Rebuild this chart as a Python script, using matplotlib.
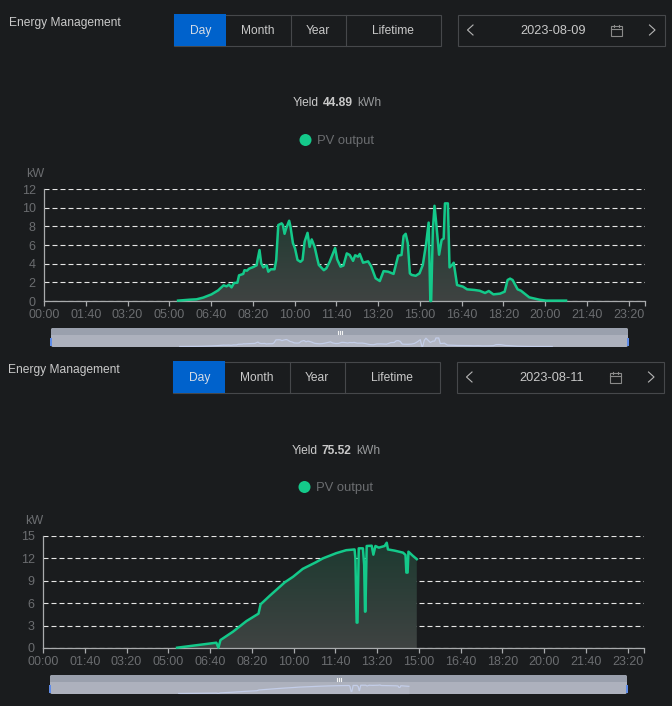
import numpy as np
import matplotlib
matplotlib.use("Agg")
import matplotlib.pyplot as plt
from matplotlib.patches import Rectangle, FancyBboxPatch, Circle

plt.rcParams['font.family'] = ['Liberation Sans', 'DejaVu Sans']

tick_minutes = [0, 100, 200, 300, 400, 500, 600, 700, 800, 900, 1000, 1100, 1200, 1300, 1400, 1439]
tick_labels = ['00:00', '01:40', '03:20', '05:00', '06:40', '08:20', '10:00', '11:40', '13:20',
               '15:00', '16:40', '18:20', '20:00', '21:40', '23:20', '']

day1_date = '2023-08-09'
day1_yield = '44.89'
day1_yticks = [0, 2, 4, 6, 8, 10, 12]
day1_minutes = [321, 349, 365, 381, 401, 417, 430, 437, 443, 449, 455, 463, 467, 477, 480, 486, 491, 501, 509,
                512, 516, 520, 525, 533, 537, 543, 552, 556, 561, 569, 572, 576, 580, 587, 590, 596, 601, 607,
                614, 619, 624, 631, 636, 641, 648, 654, 658, 670, 676, 684, 697, 702, 710, 717, 725, 732, 740,
                745, 752, 756, 764, 776, 783, 794, 804, 813, 824, 837, 848, 856, 861, 866, 871, 876, 880, 890,
                899, 907, 915, 921, 925, 927, 931, 935, 939, 946, 952, 957, 960, 967, 971, 977, 981, 989, 1003,
                1013, 1031, 1043, 1056, 1065, 1076, 1092, 1103, 1110, 1116, 1122, 1134, 1142, 1162, 1186, 1202, 1250]
day1_values = [0.04, 0.14, 0.18, 0.36, 0.71, 1.14, 1.68, 1.57, 1.75, 1.46, 1.93, 1.96, 2.75, 2.9, 3.3, 3.25, 3.46,
               3.64, 3.82, 4.57, 5.46, 4.04, 3.6, 3.82, 3.14, 3.4, 3.4, 4.4, 8.14, 8.32, 8.14, 7.2, 7.8, 8.6, 8.0,
               6.2, 5.64, 4.4, 4.2, 4.4, 6.36, 7.3, 5.8, 6.6, 5.8, 4.6, 3.86, 3.3, 3.5, 4.2, 5.68, 4.46, 3.68, 3.8,
               5.1, 4.93, 4.3, 4.9, 4.75, 5.04, 4.1, 4.25, 3.75, 2.43, 2.14, 3.2, 3.14, 2.9, 4.86, 4.93, 6.96, 7.2,
               6.2, 2.96, 2.8, 2.7, 2.96, 3.86, 6.18, 8.4, 0.0, 0.0, 7.6, 10.2, 8.4, 4.96, 6.54, 6.7, 10.46, 10.46,
               3.6, 3.86, 4.1, 1.71, 1.54, 1.25, 1.18, 1.1, 0.86, 1.07, 0.71, 0.79, 1.0, 2.25, 2.4, 2.25, 1.25, 1.1,
               0.39, 0.14, 0.04, 0.04]

day2_date = '2023-08-11'
day2_yield = '75.52'
day2_yticks = [0, 3, 6, 9, 12, 15]
day2_minutes = [321, 415, 420, 425, 455, 487, 516, 521, 543, 579, 599, 622, 654, 670, 702, 726, 746, 748, 751, 753,
                756, 766, 769, 771, 772, 775, 787, 791, 796, 804, 818, 823, 826, 842, 862, 868, 870, 873, 875, 885, 895]
day2_values = [0.04, 0.71, 0.04, 1.07, 2.19, 3.6, 4.6, 5.85, 7.0, 8.8, 9.55, 10.6, 11.5, 12.0, 12.7, 13.1, 13.2, 12.0,
               3.4, 3.4, 13.35, 13.35, 11.1, 4.87, 4.87, 13.66, 13.7, 12.5, 13.66, 13.44, 13.66, 14.1, 13.2, 13.04,
               12.77, 12.46, 10.1, 10.1, 12.9, 12.37, 11.9]

W, H = 672, 706
BG = '#1a1c1e'
GREEN = '#14c98a'
BORDER = '#46484b'
TXT = '#c9c9c9'
GREY = '#6b6d70'
AXIS = '#a9abad'

fig = plt.figure(figsize=(W / 100, H / 100), dpi=100, facecolor=BG)
ui = fig.add_axes([0, 0, 1, 1], zorder=5)
ui.set_xlim(0, W)
ui.set_ylim(H, 0)
ui.axis('off')
ui.patch.set_alpha(0)


def px(size):
    return size * 0.72


def panel(dx, dy, date, yld, minutes, values, yticks, ymax):
    # header
    ui.text(9 + dx, 23 + dy, 'Energy Management', color=TXT, fontsize=px(12), va='center', ha='left')
    ui.add_patch(Rectangle((174 + dx, 14.5 + dy), 266.5, 31, fc='none', ec=BORDER, lw=0.8))
    ui.add_patch(Rectangle((174 + dx, 14 + dy), 52, 32, fc='#0062cc', ec='none'))
    for xb in (290.5, 345.5):
        ui.plot([xb + dx, xb + dx], [14.5 + dy, 45.5 + dy], color=BORDER, lw=0.8)
    for label, xc, col in (('Day', 200.5, '#d5dce6'), ('Month', 258, TXT), ('Year', 318, TXT), ('Lifetime', 393, TXT)):
        ui.text(xc + dx, 31 + dy, label, color=col, fontsize=px(12), va='center', ha='center')
    ui.add_patch(Rectangle((457.5 + dx, 14.5 + dy), 207, 31, fc='none', ec=BORDER, lw=0.8))
    ui.text(553 + dx, 31 + dy, date, color=TXT, fontsize=px(12.8), va='center', ha='center')
    ui.plot(np.array([473, 467.5, 473]) + dx, np.array([25, 30, 35]) + dy, color='#b5b5b5', lw=0.8)
    ui.plot(np.array([649.5, 655, 649.5]) + dx, np.array([25, 30, 35]) + dy, color='#b5b5b5', lw=0.8)
    ui.add_patch(Rectangle((611 + dx, 26 + dy), 10.5, 9.5, fc='none', ec='#8a8a8a', lw=0.8))
    ui.plot([611 + dx, 621.5 + dx], [29 + dy, 29 + dy], color='#8a8a8a', lw=0.8)
    for xt in (613.5, 619):
        ui.plot([xt + dx, xt + dx], [24.5 + dy, 27 + dy], color='#8a8a8a', lw=0.8)
    # yield + legend
    ui.text(293 + dx, 103.5 + dy, 'Yield', color=TXT, fontsize=px(12), va='center', ha='left')
    ui.text(323 + dx, 103.5 + dy, yld, color=TXT, fontsize=px(12), va='center', ha='left', fontweight='bold')
    ui.text(357 + dx, 103.5 + dy, 'kWh', color='#97999b', fontsize=px(12), va='center', ha='left')
    ui.add_patch(Circle((305.5 + dx, 140 + dy), 6, fc=GREEN, ec='none'))
    ui.text(317 + dx, 141 + dy, 'PV output', color=GREY, fontsize=px(13), va='center', ha='left')

    # main chart
    left, right, top, bottom = 44 + dx, 645 + dx, 189 + dy, 301 + dy
    ax = fig.add_axes([left / W, 1 - bottom / H, (right - left) / W, (bottom - top) / H], facecolor='none')
    ax.set_xlim(0, 1439)
    ax.set_ylim(0, ymax)
    for s in ('top', 'right'):
        ax.spines[s].set_visible(False)
    for s in ('bottom', 'left'):
        ax.spines[s].set_color(AXIS)
        ax.spines[s].set_linewidth(0.9)
    ax.set_xticks(tick_minutes)
    ax.set_xticklabels(tick_labels, fontsize=px(12.5), color=GREY)
    ax.set_yticks(yticks)
    ax.set_yticklabels([str(v) for v in yticks], fontsize=px(12.5), color=GREY)
    ax.tick_params(axis='x', length=3.6, width=0.9, color=AXIS, pad=2)
    ax.tick_params(axis='y', length=0, pad=6)
    ax.set_axisbelow(True)
    ax.yaxis.grid(True, color='#e6e6e6', lw=0.8, dashes=(4.5, 2.7))
    ui.text(35 + dx, 174 + dy, 'kW', color=GREY, fontsize=px(12.5), va='center', ha='center')

    top_v = max(values)
    grad = np.zeros((64, 2, 4))
    c_top = np.array(matplotlib.colors.to_rgb('#1d3a30'))
    c_bot = np.array(matplotlib.colors.to_rgb('#3f4342'))
    for i in range(64):
        t = i / 63
        grad[i, :, :3] = c_top * (1 - t) + c_bot * t
        grad[i, :, 3] = 1
    poly = ax.fill_between(minutes, 0, values, color='none', lw=0)
    im = ax.imshow(grad, extent=[0, 1439, 0, top_v], aspect='auto', origin='upper', zorder=1.5)
    im.set_clip_path(poly.get_paths()[0], transform=ax.transData)
    ax.set_xlim(0, 1439)
    ax.set_ylim(0, ymax)
    ax.plot(minutes, values, color=GREEN, lw=1.8, solid_joinstyle='round', zorder=3, clip_on=False)

    # slider
    sl, sr, st, sm, sb = 51 + dx, 628 + dx, 328 + dy, 335 + dy, 347 + dy
    box = FancyBboxPatch((sl, st), sr - sl, sb - st, boxstyle='round,pad=0,rounding_size=2', fc='#adb1bd', ec='none')
    ui.add_patch(box)
    band = Rectangle((sl, st), sr - sl, sm - st, fc='#9aa0ad', ec='none')
    ui.add_patch(band)
    band.set_clip_path(box)
    mini = fig.add_axes([sl / W, 1 - sb / H, (sr - sl) / W, (sb - sm) / H], facecolor='none', zorder=6)
    mini.axis('off')
    mini.set_xlim(0, 1439)
    mini.set_ylim(-0.05 * ymax, max(values) * 1.35)
    mini.fill_between(minutes, 0, values, color='#b3b7c4', lw=0)
    mini.plot(minutes, values, color='#c3cde8', lw=0.9)
    for xh in (sl, sr):
        ui.add_patch(Rectangle((xh - 1, 337.5 + dy), 2, 8, fc='#5f8ce8', ec='none', zorder=8))
    for xg in (338, 340, 342):
        ui.plot([xg + dx, xg + dx], [330.5 + dy, 333.5 + dy], color='#f2f2f2', lw=0.8, zorder=8)


panel(0, 0, day1_date, day1_yield, day1_minutes, day1_values, day1_yticks, 12)
panel(-1, 347, day2_date, day2_yield, day2_minutes, day2_values, day2_yticks, 15)

fig.savefig('out.png', dpi=100, facecolor=BG)
